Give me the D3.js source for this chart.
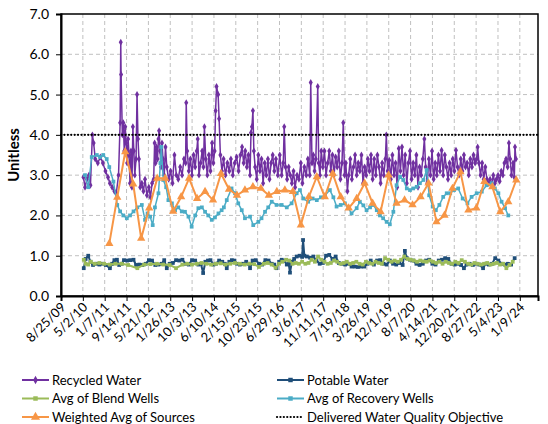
<!DOCTYPE html>
<html>
<head>
<meta charset="utf-8">
<script src="https://cdn.jsdelivr.net/npm/d3@7"></script>
<style>
  body { margin: 0; background: #fff; }
  text { font-family: Lato, "Open Sans", sans-serif; fill: #000; }
</style>
</head>
<body>
<svg id="chart" width="548" height="424"></svg>
<script>
// ---- data (time as decimal year, value unitless) ----
var tick_labels = ["8/25/09", "5/2/10", "1/7/11", "9/14/11", "5/21/12", "1/26/13", "10/3/13", "6/10/14",
    "2/15/15", "10/23/15", "6/29/16", "3/6/17", "11/11/17", "7/19/18", "3/26/19", "12/1/19", "8/7/20",
    "4/14/21", "12/20/21", "8/27/22", "5/4/23", "1/9/24"];
var y_ticks = [0, 1, 2, 3, 4, 5, 6, 7];
var objective = 4.0;

var recycled = [
    [2010.35, 2.95], [2010.40, 2.7], [2010.46, 2.9], [2010.52, 3.0], [2010.57, 2.75], [2010.63, 4.0], [2010.67, 3.8], [2010.72, 3.4], [2010.80, 3.3], [2010.88, 3.45], [2010.96, 3.3],
    [2011.04, 3.1], [2011.12, 2.95], [2011.18, 2.8], [2011.25, 2.7], [2011.32, 2.6], [2011.38, 2.55], [2011.45, 3.0], [2011.50, 4.3], [2011.52, 6.3], [2011.53, 5.5], [2011.57, 4.0], [2011.60, 4.3], [2011.63, 3.6], [2011.66, 4.2], [2011.69, 3.8], [2011.72, 3.3], [2011.75, 3.9], [2011.78, 3.5], [2011.81, 2.8], [2011.84, 3.6], [2011.87, 2.7], [2011.90, 4.2], [2011.93, 3.6], [2011.96, 3.0],
    [2012.00, 3.4], [2012.03, 5.0], [2012.06, 3.9], [2012.09, 3.4], [2012.13, 2.7], [2012.18, 2.8], [2012.23, 2.6], [2012.28, 2.9], [2012.34, 2.5], [2012.40, 2.7], [2012.45, 2.45], [2012.50, 2.8], [2012.55, 2.9], [2012.58, 3.8], [2012.61, 3.3], [2012.64, 3.7], [2012.67, 3.4], [2012.70, 3.9], [2012.72, 4.1], [2012.75, 3.6], [2012.78, 3.2], [2012.81, 3.8], [2012.84, 3.4], [2012.88, 3.0], [2012.92, 3.7], [2012.96, 3.2],
    [2013.02, 2.9], [2013.08, 3.1], [2013.14, 2.8], [2013.20, 3.5], [2013.26, 3.0], [2013.32, 2.9], [2013.38, 3.2], [2013.44, 3.0], [2013.50, 3.4], [2013.55, 3.3], [2013.57, 4.8], [2013.60, 3.6], [2013.65, 3.1], [2013.70, 3.4], [2013.75, 3.0], [2013.80, 3.5], [2013.85, 3.2], [2013.90, 3.6], [2013.93, 3.9], [2013.97, 3.0],
    [2014.02, 3.3], [2014.07, 3.6], [2014.11, 3.2], [2014.14, 4.2], [2014.18, 3.4], [2014.23, 3.0], [2014.28, 3.5], [2014.33, 3.1], [2014.38, 3.8], [2014.42, 3.3], [2014.46, 3.6], [2014.49, 4.6], [2014.52, 5.2], [2014.57, 5.0], [2014.60, 4.4], [2014.64, 3.5], [2014.69, 3.1], [2014.74, 3.4], [2014.80, 3.0], [2014.86, 3.3], [2014.92, 3.1], [2014.97, 3.4],
    [2015.03, 3.0], [2015.09, 3.3], [2015.15, 3.45], [2015.21, 3.1], [2015.27, 3.5], [2015.32, 3.7], [2015.37, 3.3], [2015.42, 3.6], [2015.47, 3.2], [2015.52, 3.5], [2015.57, 3.0], [2015.60, 4.05], [2015.63, 4.2], [2015.66, 4.6], [2015.69, 3.6], [2015.73, 3.2], [2015.78, 2.9], [2015.83, 3.5], [2015.88, 3.1], [2015.93, 3.4], [2015.98, 2.8],
    [2016.03, 3.3], [2016.08, 3.0], [2016.13, 3.4], [2016.18, 2.9], [2016.23, 3.3], [2016.28, 3.5], [2016.33, 3.1], [2016.38, 3.4], [2016.44, 3.0], [2016.50, 3.5], [2016.56, 3.0], [2016.61, 3.3], [2016.64, 4.2], [2016.68, 3.2], [2016.73, 2.9], [2016.78, 3.2], [2016.83, 3.0], [2016.88, 2.8], [2016.93, 3.1], [2016.98, 2.7],
    [2017.04, 3.0], [2017.10, 2.9], [2017.16, 3.3], [2017.21, 2.8], [2017.27, 3.2], [2017.33, 3.0], [2017.38, 3.4], [2017.44, 3.0], [2017.47, 5.3], [2017.51, 3.3], [2017.55, 3.5], [2017.59, 3.1], [2017.63, 3.4], [2017.69, 5.2], [2017.72, 3.3], [2017.76, 3.0], [2017.80, 3.6], [2017.85, 3.2], [2017.90, 3.6], [2017.95, 3.0],
    [2018.00, 3.3], [2018.05, 3.6], [2018.10, 3.1], [2018.15, 3.5], [2018.20, 3.0], [2018.25, 3.45], [2018.30, 3.2], [2018.35, 3.6], [2018.40, 2.9], [2018.45, 3.3], [2018.49, 4.3], [2018.53, 3.0], [2018.57, 3.3], [2018.62, 2.6], [2018.66, 3.0], [2018.71, 3.4], [2018.76, 2.9], [2018.81, 3.2], [2018.86, 3.5], [2018.91, 3.0], [2018.96, 3.3],
    [2019.01, 3.1], [2019.06, 3.5], [2019.11, 2.8], [2019.16, 3.2], [2019.21, 3.0], [2019.26, 3.4], [2019.31, 3.1], [2019.36, 3.5], [2019.41, 2.9], [2019.46, 3.4], [2019.51, 3.0], [2019.56, 3.5], [2019.61, 3.2], [2019.66, 2.8], [2019.71, 3.3], [2019.76, 3.0], [2019.81, 3.4], [2019.84, 4.0], [2019.88, 3.1], [2019.93, 3.37], [2019.98, 2.9],
    [2020.03, 3.5], [2020.08, 3.0], [2020.13, 3.3], [2020.18, 2.7], [2020.23, 3.66], [2020.28, 3.1], [2020.33, 3.7], [2020.38, 3.0], [2020.43, 3.5], [2020.48, 2.8], [2020.53, 3.3], [2020.58, 3.6], [2020.63, 2.9], [2020.68, 3.3], [2020.73, 3.0], [2020.78, 3.5], [2020.83, 2.7], [2020.88, 3.2], [2020.93, 3.0], [2020.98, 3.4],
    [2021.03, 3.9], [2021.07, 3.2], [2021.12, 2.8], [2021.17, 3.4], [2021.22, 3.0], [2021.27, 3.6], [2021.32, 2.9], [2021.37, 3.3], [2021.42, 3.0], [2021.47, 3.5], [2021.52, 3.1], [2021.57, 3.62], [2021.62, 3.0], [2021.67, 3.5], [2021.72, 3.2], [2021.77, 2.9], [2021.82, 3.3], [2021.87, 3.0], [2021.92, 3.4], [2021.97, 3.1],
    [2022.02, 3.62], [2022.07, 3.2], [2022.12, 3.0], [2022.17, 3.4], [2022.22, 3.1], [2022.27, 3.5], [2022.32, 3.2], [2022.37, 3.3], [2022.42, 3.0], [2022.47, 3.4], [2022.52, 3.2], [2022.57, 3.5], [2022.62, 3.3], [2022.67, 3.4], [2022.70, 3.7], [2022.74, 3.3], [2022.79, 3.0], [2022.84, 3.3], [2022.89, 2.9], [2022.94, 3.2], [2022.99, 2.9],
    [2023.04, 2.8], [2023.09, 2.9], [2023.14, 2.75], [2023.19, 3.0], [2023.24, 2.8], [2023.29, 2.9], [2023.34, 3.0], [2023.39, 2.85], [2023.44, 3.1], [2023.49, 3.0], [2023.54, 3.3], [2023.59, 3.4], [2023.64, 3.2], [2023.68, 3.8], [2023.72, 3.4], [2023.76, 3.0], [2023.81, 3.3], [2023.85, 2.95], [2023.87, 3.7], [2023.90, 3.4]
];

var potable = [
    [2010.36, 0.69], [2010.42, 0.92], [2010.50, 1.0], [2010.57, 0.85], [2010.65, 0.77], [2010.75, 0.80], [2010.85, 0.78], [2010.95, 0.80],
    [2011.05, 0.77], [2011.18, 0.69], [2011.25, 0.80], [2011.32, 0.89], [2011.40, 0.90], [2011.47, 0.77], [2011.55, 0.80], [2011.62, 0.89], [2011.72, 0.88], [2011.82, 0.89], [2011.92, 0.90],
    [2012.00, 0.77], [2012.10, 0.78], [2012.20, 0.77], [2012.30, 0.80], [2012.40, 0.89], [2012.50, 0.88], [2012.60, 0.77], [2012.70, 0.78], [2012.80, 0.80], [2012.88, 0.89], [2012.96, 0.69],
    [2013.05, 0.80], [2013.15, 0.82], [2013.25, 0.89], [2013.35, 0.88], [2013.45, 0.90], [2013.55, 0.80], [2013.65, 0.78], [2013.75, 0.89], [2013.85, 0.88], [2013.95, 0.78],
    [2014.03, 0.80], [2014.10, 0.57], [2014.17, 0.85], [2014.25, 0.88], [2014.33, 0.89], [2014.42, 0.78], [2014.50, 0.80], [2014.60, 0.88], [2014.70, 0.85], [2014.78, 0.80], [2014.84, 0.69], [2014.92, 0.85],
    [2015.00, 0.89], [2015.08, 0.88], [2015.16, 0.80], [2015.25, 0.78], [2015.35, 0.80], [2015.45, 0.85], [2015.52, 0.80], [2015.57, 0.69], [2015.65, 0.88], [2015.75, 0.89], [2015.85, 0.80], [2015.95, 0.78],
    [2016.05, 0.89], [2016.15, 0.88], [2016.25, 0.80], [2016.33, 0.78], [2016.40, 0.69], [2016.48, 0.85], [2016.56, 0.90], [2016.64, 0.88], [2016.72, 0.78], [2016.78, 0.80], [2016.82, 0.58], [2016.88, 0.85], [2016.95, 0.92],
    [2017.03, 0.98], [2017.12, 1.0], [2017.20, 0.97], [2017.23, 1.39], [2017.27, 1.0], [2017.35, 0.98], [2017.45, 0.95], [2017.55, 0.98], [2017.65, 0.88], [2017.75, 0.80], [2017.85, 0.82], [2017.95, 1.0],
    [2018.05, 1.02], [2018.15, 0.92], [2018.25, 0.98], [2018.35, 0.82], [2018.45, 0.80], [2018.55, 0.78], [2018.65, 0.80], [2018.75, 0.73], [2018.85, 0.73], [2018.95, 0.72],
    [2019.05, 0.73], [2019.15, 0.73], [2019.25, 0.80], [2019.35, 0.88], [2019.45, 0.78], [2019.55, 0.88], [2019.65, 0.89], [2019.75, 0.80], [2019.85, 0.78], [2019.95, 0.88],
    [2020.05, 0.80], [2020.15, 0.78], [2020.25, 0.82], [2020.35, 0.77], [2020.42, 1.12], [2020.48, 0.94], [2020.58, 0.90], [2020.68, 0.88], [2020.78, 0.80], [2020.88, 0.77], [2020.98, 0.80],
    [2021.08, 0.88], [2021.18, 0.90], [2021.28, 0.80], [2021.38, 0.78], [2021.48, 0.88], [2021.58, 0.90], [2021.68, 0.94], [2021.78, 0.92], [2021.88, 0.80], [2021.98, 0.78],
    [2022.08, 0.80], [2022.18, 0.77], [2022.27, 0.69], [2022.35, 0.78], [2022.45, 0.80], [2022.55, 0.77], [2022.65, 0.80], [2022.75, 0.78], [2022.87, 0.69], [2022.95, 0.80],
    [2023.05, 0.78], [2023.15, 0.80], [2023.25, 0.94], [2023.35, 0.88], [2023.45, 0.80], [2023.55, 0.78], [2023.65, 0.80], [2023.75, 0.78], [2023.86, 0.94]
];

var blend = [
    [2010.36, 0.90], [2010.42, 0.80], [2010.50, 0.78], [2010.58, 0.85], [2010.70, 0.80], [2010.85, 0.82],
    [2011.00, 0.80], [2011.18, 0.78], [2011.35, 0.80], [2011.55, 0.80], [2011.75, 0.77],
    [2012.04, 0.69], [2012.25, 0.78], [2012.45, 0.79], [2012.65, 0.80], [2012.85, 0.78],
    [2013.05, 0.77], [2013.25, 0.69], [2013.45, 0.78], [2013.60, 0.80], [2013.75, 0.78], [2013.90, 0.80],
    [2014.05, 0.82], [2014.20, 0.80], [2014.35, 0.78], [2014.50, 0.80], [2014.65, 0.81], [2014.80, 0.78], [2014.95, 0.80],
    [2015.10, 0.82], [2015.25, 0.80], [2015.40, 0.78], [2015.55, 0.80], [2015.70, 0.79], [2015.85, 0.72],
    [2016.00, 0.80], [2016.12, 0.82], [2016.25, 0.78], [2016.37, 0.70], [2016.48, 0.80], [2016.58, 0.85], [2016.70, 0.90], [2016.80, 0.88], [2016.90, 0.80],
    [2017.00, 0.82], [2017.10, 0.80], [2017.20, 0.85], [2017.30, 0.80], [2017.40, 0.82], [2017.50, 0.90], [2017.60, 0.85], [2017.70, 0.98], [2017.80, 0.90], [2017.90, 0.85],
    [2018.00, 0.80], [2018.10, 0.82], [2018.20, 0.88], [2018.30, 0.85], [2018.40, 0.80], [2018.50, 0.82], [2018.60, 0.85], [2018.70, 0.80], [2018.80, 0.82], [2018.90, 0.85],
    [2019.00, 0.80], [2019.10, 0.78], [2019.20, 0.85], [2019.30, 0.82], [2019.40, 0.80], [2019.50, 0.85], [2019.60, 0.82], [2019.70, 0.80], [2019.80, 0.94], [2019.90, 0.90],
    [2020.00, 0.85], [2020.10, 0.88], [2020.20, 0.85], [2020.30, 0.90], [2020.40, 0.98], [2020.50, 0.92], [2020.60, 0.90], [2020.70, 0.88], [2020.80, 0.85], [2020.90, 0.88],
    [2021.00, 0.86], [2021.10, 0.85], [2021.20, 0.88], [2021.30, 0.85], [2021.40, 0.82], [2021.50, 0.85], [2021.60, 0.80], [2021.70, 0.85], [2021.80, 0.82], [2021.90, 0.80],
    [2022.00, 0.85], [2022.10, 0.82], [2022.20, 0.89], [2022.30, 0.85], [2022.40, 0.80], [2022.50, 0.78], [2022.60, 0.82], [2022.70, 0.80], [2022.80, 0.78], [2022.90, 0.80],
    [2023.00, 0.82], [2023.10, 0.78], [2023.20, 0.80], [2023.30, 0.82], [2023.40, 0.78], [2023.50, 0.80], [2023.60, 0.69], [2023.70, 0.77], [2023.80, 0.85]
];

var recovery = [
    [2010.40, 3.0], [2010.50, 2.7], [2010.61, 3.45], [2010.77, 3.5], [2010.87, 3.45], [2010.97, 3.5],
    [2011.08, 3.4], [2011.16, 3.2], [2011.29, 2.84], [2011.41, 2.26], [2011.50, 2.1], [2011.60, 2.0], [2011.71, 1.93], [2011.81, 2.0], [2011.92, 2.1],
    [2012.04, 2.2], [2012.18, 2.26], [2012.28, 1.89], [2012.36, 2.05], [2012.44, 1.97], [2012.52, 1.76], [2012.59, 2.2], [2012.70, 2.55], [2012.76, 3.3], [2012.79, 3.7], [2012.85, 2.88], [2012.94, 2.7],
    [2013.01, 2.38], [2013.12, 2.3], [2013.22, 2.13], [2013.32, 2.2], [2013.43, 2.1], [2013.53, 2.09], [2013.64, 1.97], [2013.74, 1.72], [2013.85, 2.0], [2013.95, 2.18],
    [2014.06, 2.2], [2014.16, 2.09], [2014.26, 2.0], [2014.37, 1.89], [2014.47, 1.95], [2014.58, 2.05], [2014.68, 2.13], [2014.75, 2.2], [2014.84, 2.38], [2014.99, 2.67],
    [2015.10, 2.55], [2015.20, 2.3], [2015.31, 2.13], [2015.41, 1.93], [2015.57, 1.97], [2015.67, 1.76], [2015.83, 1.84], [2015.93, 1.93],
    [2016.04, 2.09], [2016.14, 2.2], [2016.25, 2.34], [2016.40, 2.26], [2016.56, 2.26], [2016.72, 2.2], [2016.87, 2.3],
    [2017.03, 2.55], [2017.13, 2.63], [2017.24, 2.42], [2017.39, 2.34], [2017.53, 2.42], [2017.66, 2.38], [2017.79, 2.45], [2017.92, 2.5],
    [2018.07, 2.63], [2018.18, 2.45], [2018.28, 2.22], [2018.41, 2.26], [2018.54, 2.3], [2018.65, 2.18], [2018.75, 2.05], [2018.91, 2.18],
    [2019.01, 2.34], [2019.12, 2.25], [2019.22, 2.13], [2019.33, 2.2], [2019.43, 2.26], [2019.54, 2.13], [2019.64, 2.0], [2019.74, 1.93], [2019.85, 1.84], [2019.95, 1.78],
    [2020.06, 2.09], [2020.16, 2.75], [2020.27, 2.96], [2020.37, 2.88], [2020.48, 2.67], [2020.58, 2.63], [2020.68, 2.67], [2020.79, 2.71], [2020.89, 2.8],
    [2021.00, 2.88], [2021.10, 3.13], [2021.18, 2.5], [2021.29, 2.22], [2021.39, 2.13], [2021.50, 2.26], [2021.62, 2.46], [2021.73, 2.55], [2021.84, 2.55], [2021.96, 2.63],
    [2022.09, 2.67], [2022.23, 2.42], [2022.38, 2.3], [2022.51, 2.46], [2022.67, 2.55], [2022.83, 2.59], [2022.98, 2.75],
    [2023.14, 2.8], [2023.24, 2.67], [2023.35, 2.55], [2023.45, 2.34], [2023.56, 2.18], [2023.66, 2.0]
];

var weighted = [
    [2011.16, 1.30], [2011.41, 2.45], [2011.66, 3.58], [2011.91, 2.78],
    [2012.16, 1.43], [2012.41, 2.18], [2012.66, 2.92], [2012.91, 2.92],
    [2013.16, 2.10], [2013.41, 2.46], [2013.66, 2.92], [2013.91, 2.42],
    [2014.16, 2.59], [2014.41, 2.38], [2014.66, 3.04], [2014.91, 2.65],
    [2015.16, 2.50], [2015.41, 2.63], [2015.66, 2.71], [2015.91, 2.67],
    [2016.16, 2.50], [2016.41, 2.59], [2016.66, 2.63], [2016.91, 2.59],
    [2017.16, 1.76], [2017.41, 2.46], [2017.66, 2.96], [2017.91, 2.46],
    [2018.16, 3.04], [2018.41, 2.46], [2018.66, 2.18], [2018.91, 2.42],
    [2019.16, 2.80], [2019.41, 2.30], [2019.66, 2.09], [2019.91, 3.00],
    [2020.16, 2.30], [2020.41, 2.38], [2020.66, 2.26], [2020.91, 2.46],
    [2021.16, 2.80], [2021.41, 1.84], [2021.66, 2.00], [2021.91, 2.67],
    [2022.16, 3.08], [2022.41, 2.13], [2022.66, 2.18], [2022.91, 2.84],
    [2023.16, 2.71], [2023.41, 2.09], [2023.66, 2.34], [2023.91, 2.88]
];

var series = [
    { id: "Recycled Water", values: recycled, color: "#7030a0", symbol: d3.symbolDiamond, size: 14, width: 1.5 },
    { id: "Potable Water", values: potable, color: "#1f4e79", symbol: d3.symbolSquare, size: 14, width: 2 },
    { id: "Avg of Blend Wells", values: blend, color: "#9bbb59", symbol: d3.symbolSquare, size: 14, width: 2 },
    { id: "Avg of Recovery Wells", values: recovery, color: "#4bacc6", symbol: d3.symbolSquare, size: 14, width: 1.5 },
    { id: "Weighted Avg of Sources", values: weighted, color: "#f79646", symbol: d3.symbolTriangle, size: 30, width: 2 }
];

// decimal year -> Date
function to_date(yr) {
    var y0 = Math.floor(yr);
    var a = new Date(y0, 0, 1), b = new Date(y0 + 1, 0, 1);
    return new Date(+a + (yr - y0) * (b - a));
}

var parse = d3.timeParse("%m/%d/%y");
var tick_dates = tick_labels.map(parse);

var svg = d3.select("#chart"),
    margin = { top: 14, right: 10, bottom: 128, left: 61 },
    width = +svg.attr("width") - margin.left - margin.right,
    height = +svg.attr("height") - margin.top - margin.bottom,
    g = svg.append("g").attr("transform", "translate(" + margin.left + "," + margin.top + ")");

var x = d3.scaleTime().domain([parse("8/25/09"), parse("8/4/24")]).range([0, width]);
var y = d3.scaleLinear().domain([0, 7]).range([height, 0]);

// grid
g.append("g").selectAll("line.vg")
    .data(tick_dates.slice(1))
    .enter().append("line")
    .attr("x1", function(d) { return x(d); })
    .attr("x2", function(d) { return x(d); })
    .attr("y1", 0).attr("y2", height)
    .style("stroke", "#c0c0c0").style("stroke-dasharray", "4,3").style("stroke-width", 1);

g.append("g").selectAll("line.hg")
    .data(y_ticks.slice(1, -1))
    .enter().append("line")
    .attr("x1", 0).attr("x2", width)
    .attr("y1", function(d) { return y(d); })
    .attr("y2", function(d) { return y(d); })
    .style("stroke", "#c0c0c0").style("stroke-dasharray", "4,3").style("stroke-width", 1);

// plot frame
g.append("rect")
    .attr("width", width).attr("height", height)
    .style("fill", "none").style("stroke", "#000").style("stroke-width", 1.5);

// axes
var xa = g.append("g")
    .attr("transform", "translate(0," + height + ")")
    .call(d3.axisBottom(x).tickValues(tick_dates).tickSize(5)
        .tickFormat(function(d, i) { return tick_labels[i]; }));
xa.select(".domain").style("stroke", "#000").style("stroke-width", 2);
xa.selectAll("text")
    .style("font-size", "13px")
    .attr("text-anchor", "end")
    .attr("dy", null)
    .attr("y", 0)
    .attr("transform", "translate(5,12) rotate(-45)");

var ya = g.append("g")
    .call(d3.axisLeft(y).tickValues(y_ticks).tickSize(5).tickPadding(7).tickFormat(d3.format(".1f")));
ya.select(".domain").style("stroke", "#000").style("stroke-width", 2);
ya.selectAll("text").style("font-size", "14px");

g.append("text")
    .attr("transform", "translate(-42," + (height / 2) + ") rotate(-90)")
    .attr("text-anchor", "middle")
    .style("font-size", "15px")
    .style("font-weight", "bold")
    .text("Unitless");

// series
var line = d3.line()
    .x(function(d) { return x(to_date(d[0])); })
    .y(function(d) { return y(d[1]); });

var s = g.selectAll(".s")
    .data(series)
    .enter().append("g")
    .attr("class", "s");

s.append("path")
    .attr("d", function(d) { return line(d.values); })
    .style("fill", "none")
    .style("stroke", function(d) { return d.color; })
    .style("stroke-width", function(d) { return d.width; })
    .style("stroke-linejoin", "round");

s.each(function(d) {
    d3.select(this).selectAll("path.m")
        .data(d.values)
        .enter().append("path")
        .attr("class", "m")
        .attr("d", d3.symbol().type(d.symbol).size(d.size))
        .attr("transform", function(p) { return "translate(" + x(to_date(p[0])) + "," + y(p[1]) + ")"; })
        .style("fill", d.color);
});

// objective line
g.append("line")
    .attr("x1", 0).attr("x2", width)
    .attr("y1", y(objective)).attr("y2", y(objective))
    .style("stroke", "#000").style("stroke-width", 2.2)
    .style("stroke-linecap", "round").style("stroke-dasharray", "0.1,3.3");

// legend
var legend_items = series.concat([{ id: "Delivered Water Quality Objective", color: "#000", dotted: true }]);
var lg = svg.append("g");
var item = lg.selectAll(".li")
    .data(legend_items)
    .enter().append("g")
    .attr("transform", function(d, i) {
        var col = i % 2, row = Math.floor(i / 2);
        return "translate(" + (col ? 277 : 22) + "," + (380 + row * 18.5) + ")";
    });

item.append("line")
    .attr("x1", 0).attr("x2", 27).attr("y1", 0).attr("y2", 0)
    .style("stroke", function(d) { return d.color; })
    .style("stroke-width", function(d) { return d.dotted ? 2.2 : 2; })
    .style("stroke-linecap", function(d) { return d.dotted ? "round" : "butt"; })
    .style("stroke-dasharray", function(d) { return d.dotted ? "0.1,3.3" : null; });

item.filter(function(d) { return !d.dotted; }).append("path")
    .attr("d", function(d) { return d3.symbol().type(d.symbol).size(d.size + 6)(); })
    .attr("transform", "translate(13.5,0)")
    .style("fill", function(d) { return d.color; });

item.append("text")
    .attr("x", 30)
    .attr("dy", "0.35em")
    .style("font-size", "13px")
    .text(function(d) { return d.id; });
</script>
</body>
</html>
